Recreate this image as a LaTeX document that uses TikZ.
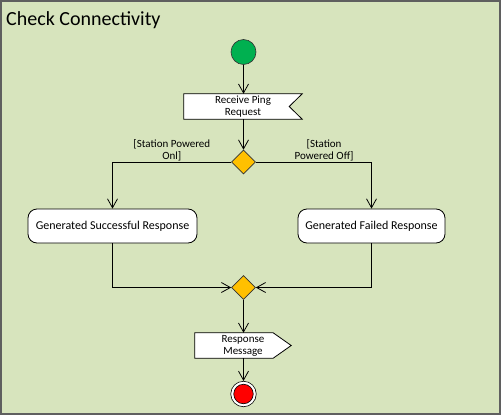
\documentclass[tikz,border=0pt]{standalone}
\usepackage{fontspec}
\setmainfont{Carlito}
\usetikzlibrary{arrows.meta,calc,shapes.geometric}
\definecolor{bgc}{RGB}{215,228,189}
\definecolor{frm}{RGB}{95,95,95}
\definecolor{startg}{RGB}{0,176,80}
\definecolor{decy}{RGB}{255,192,0}
\tikzset{
  conn/.style={draw=black, line width=0.8pt},
  arr/.style={conn, -{Straight Barb[length=9pt,width=10pt,line width=0.8pt]}},
  actbox/.style={draw=black, fill=white, line width=0.8pt, rounded corners=9pt, minimum width=169pt, minimum height=34pt, font=\fontsize{12}{14}\selectfont, inner sep=0pt},
  sigtext/.style={minimum height=25pt, inner sep=0pt, align=center, font=\fontsize{11}{12}\selectfont},
  sigshape/.style={draw=black, fill=white, line width=0.8pt},
  decision/.style={diamond, draw=black!80, fill=decy, line width=0.6pt, minimum width=24pt, minimum height=24pt, inner sep=0pt},
  lbl/.style={align=center, font=\fontsize{11}{12}\selectfont, inner sep=1pt},
}
\begin{document}
\begin{tikzpicture}[x=1pt, y=-1pt]
\useasboundingbox (0,0) rectangle (501,415);
\fill[bgc] (0,0) rectangle (501,415);
\draw[frm, line width=2pt] (1,1) rectangle (500,414);
\node[anchor=base west, font=\fontsize{20}{24}\selectfont, inner sep=0pt] (title) at (6,25) {Check Connectivity};

\node[circle, draw=black!80, fill=startg, line width=0.6pt, minimum size=25pt, inner sep=0pt] (start) at (243.5,52) {};

\node[sigtext, minimum width=118pt] (req) at (243,106.5) {Receive Ping\\Request};
\draw[sigshape] (req.north west) -- (req.north east) -- ($(req.east)+(-13,0)$) -- (req.south east) -- (req.south west) -- cycle;
\node[sigtext, minimum width=118pt] at (243,106.5) {Receive Ping\\Request};

\node[decision] (dec) at (243.5,162) {};

\node[actbox] (succ) at (112.5,226) {Generated Successful Response};
\node[actbox, minimum width=147pt] (fail) at (371.5,226) {Generated Failed Response};

\node[decision] (merge) at (243.5,287.5) {};

\node[sigtext, minimum width=96pt] (resp) at (243,345.5) {Response\\Message};
\draw[sigshape] (resp.north west) -- ($(resp.north east)+(-18,0)$) -- (resp.east) -- ($(resp.south east)+(-18,0)$) -- (resp.south west) -- cycle;
\node[sigtext, minimum width=96pt] at (243,345.5) {Response\\Message};

\node[circle, draw=black, fill=white, line width=0.6pt, minimum size=25.5pt, inner sep=0pt] (final) at (243.5,394) {};
\node[circle, draw=black, fill=red, line width=0.6pt, minimum size=19.5pt, inner sep=0pt] (finalin) at (243.5,394) {};

\draw[arr] (start) -- (req.north -| start);
\draw[arr] (req.south -| dec) -- (dec.north);
\draw[arr] (dec.west) -- node[lbl, above, pos=0.5]{[Station Powered\\Onl]} (dec.west -| succ.north) -- (succ.north);
\draw[arr] (dec.east) -- node[lbl, above, pos=0.59]{[Station\\Powered Off]} (dec.east -| fail.north) -- (fail.north);
\draw[arr] (succ.south) |- (merge.west);
\draw[arr] (fail.south) |- (merge.east);
\draw[arr] (merge.south) -- (resp.north -| merge);
\draw[arr] (resp.south -| merge) -- (final.north);
\end{tikzpicture}
\end{document}
